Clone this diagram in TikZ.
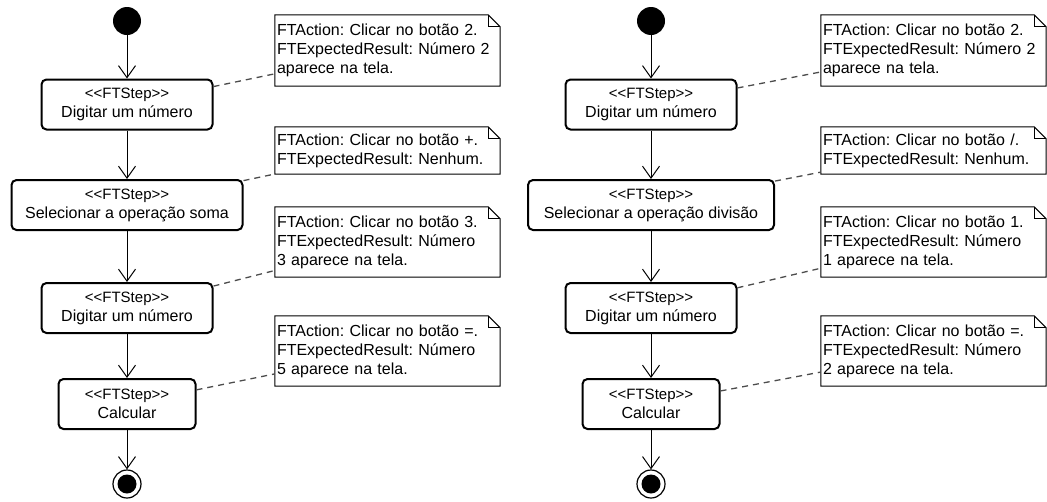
\documentclass[tikz,border=0pt]{standalone}
\usepackage{fontspec}
\setmainfont{Liberation Sans}
\usetikzlibrary{arrows.meta}
\frenchspacing
\newcommand\stereoline{{\fontsize{15}{19}\selectfont\textless\kern0pt\textless\kern0pt FTStep\textgreater\kern0pt\textgreater}}
\newcommand\foldnote[1]{%
  \draw[notebd] (#1.south west) -- (#1.north west) -- ([xshift=-12pt]#1.north east)
     -- ([yshift=-12pt]#1.north east) -- (#1.south east) -- cycle;
  \draw[notebd] ([xshift=-12pt]#1.north east) |- ([yshift=-12pt]#1.north east);}
\begin{document}
\begin{tikzpicture}[x=1pt,y=-1pt,
  stepbox/.style={draw, line width=2pt, rounded corners=5pt, minimum height=50pt,
    align=center, inner sep=0pt, font=\fontsize{16}{19}\selectfont\frenchspacing},
  notebox/.style={minimum height=#1, minimum width=225pt, text width=221pt,
    inner xsep=2pt, inner ysep=0pt, align=left, font=\fontsize{16}{19}\selectfont\frenchspacing},
  notebd/.style={draw, line width=1pt},
  startnode/.style={circle, fill=black, minimum size=28pt, inner sep=0pt},
  endnode/.style={circle, draw, line width=1.2pt, minimum size=28pt, inner sep=0pt,
    path picture={\fill[black] (path picture bounding box.center) circle (9.5pt);}},
  flow/.style={draw, line width=1pt, -{Straight Barb[length=12pt,width=17pt]}},
  conn/.style={draw, line width=1.3pt, dash pattern=on 6pt off 5pt, black!70}]
\useasboundingbox (0,0) rectangle (1047,501);

% ---------- left diagram ----------
\node[startnode] (LS) at (127,21) {};
\node[stepbox, minimum width=171pt] (L1) at (127,104.5) {\stereoline\\Digitar um número};
\node[stepbox, minimum width=231pt] (L2) at (127,205) {\stereoline\\Selecionar a operação soma};
\node[stepbox, minimum width=171pt] (L3) at (127,308) {\stereoline\\Digitar um número};
\node[stepbox, minimum width=137pt] (L4) at (127,404) {\stereoline\\Calcular};
\node[endnode] (LE) at (127,484) {};

\node[notebox=71pt] (LN1) at (387.5,50.5) {FTAction: Clicar no botão 2.\\FTExpectedResult: Número 2\\aparece na tela.};
\node[notebox=47pt] (LN2) at (387.5,150.5) {FTAction: Clicar no botão +.\\FTExpectedResult: Nenhum.};
\node[notebox=70pt] (LN3) at (387.5,242) {FTAction: Clicar no botão 3.\\FTExpectedResult: Número\\3 aparece na tela.};
\node[notebox=70pt] (LN4) at (387.5,351) {FTAction: Clicar no botão =.\\FTExpectedResult: Número\\5 aparece na tela.};
\foldnote{LN1}\foldnote{LN2}\foldnote{LN3}\foldnote{LN4}

\draw[flow] (LS) -- (L1);
\draw[flow] (L1) -- (L2);
\draw[flow] (L2) -- (L3);
\draw[flow] (L3) -- (L4);
\draw[flow] (L4) -- (LE);
\draw[conn] (L1) -- (LN1);
\draw[conn] (L2) -- (LN2);
\draw[conn] (L3) -- (LN3);
\draw[conn] (L4) -- (LN4);

% ---------- right diagram ----------
\node[startnode] (RS) at (651,21) {};
\node[stepbox, minimum width=171pt] (R1) at (651,104.5) {\stereoline\\Digitar um número};
\node[stepbox, minimum width=246pt] (R2) at (651,205) {\stereoline\\Selecionar a operação divisão};
\node[stepbox, minimum width=171pt] (R3) at (651,308) {\stereoline\\Digitar um número};
\node[stepbox, minimum width=137pt] (R4) at (651,404) {\stereoline\\Calcular};
\node[endnode] (RE) at (651,484) {};

\node[notebox=71pt] (RN1) at (933.5,50.5) {FTAction: Clicar no botão 2.\\FTExpectedResult: Número 2\\aparece na tela.};
\node[notebox=47pt] (RN2) at (933.5,150.5) {FTAction: Clicar no botão /.\\FTExpectedResult: Nenhum.};
\node[notebox=70pt] (RN3) at (933.5,242) {FTAction: Clicar no botão 1.\\FTExpectedResult: Número\\1 aparece na tela.};
\node[notebox=70pt] (RN4) at (933.5,351) {FTAction: Clicar no botão =.\\FTExpectedResult: Número\\2 aparece na tela.};
\foldnote{RN1}\foldnote{RN2}\foldnote{RN3}\foldnote{RN4}

\draw[flow] (RS) -- (R1);
\draw[flow] (R1) -- (R2);
\draw[flow] (R2) -- (R3);
\draw[flow] (R3) -- (R4);
\draw[flow] (R4) -- (RE);
\draw[conn] (R1) -- (RN1);
\draw[conn] (R2) -- (RN2);
\draw[conn] (R3) -- (RN3);
\draw[conn] (R4) -- (RN4);
\end{tikzpicture}
\end{document}
